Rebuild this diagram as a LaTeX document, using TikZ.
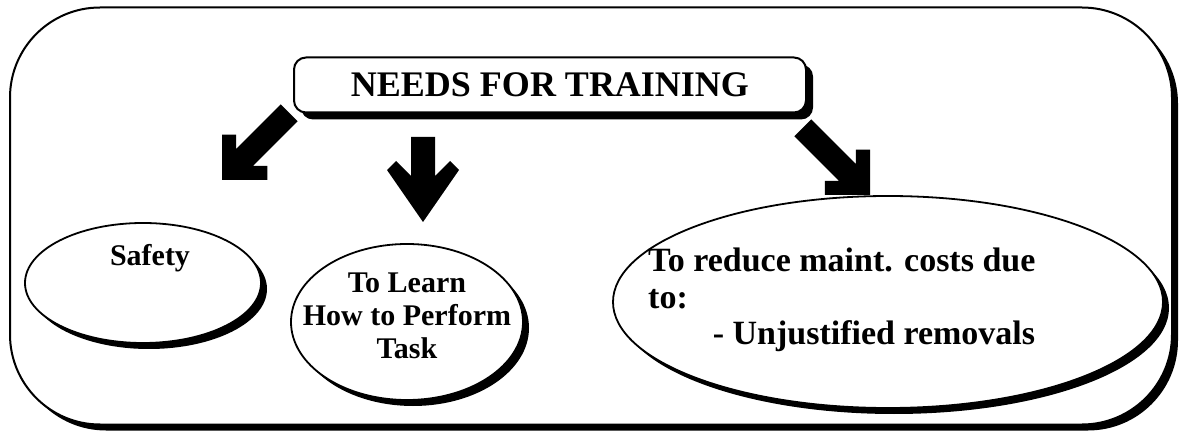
\documentclass[tikz,border=0pt]{standalone}
\usepackage{fontspec}
\setmainfont{Liberation Serif}
\usetikzlibrary{shapes.geometric,shadows}

\tikzset{
  boxshadow/.style={drop shadow={shadow xshift=#1, shadow yshift=-#1, fill=black, opacity=1}},
  framebox/.style={draw, line width=2pt, fill=white, rounded corners=90pt, boxshadow=6pt},
  titlebox/.style={draw, line width=2pt, fill=white, rounded corners=12pt, boxshadow=7pt,
    minimum width=512pt, minimum height=55pt, inner sep=0pt},
  ovalbox/.style={ellipse, draw, line width=1.8pt, fill=white, boxshadow=6pt, inner sep=0pt},
  bigtxt/.style={font=\fontsize{36}{40}\selectfont\bfseries},
  ovaltxt/.style={font=\fontsize{30}{33}\selectfont\bfseries, align=center},
  reducetxt/.style={font=\fontsize{34}{36.5}\selectfont\bfseries, align=left, inner sep=0pt}
}

\begin{document}
\begin{tikzpicture}[x=1pt, y=-1pt]
\def\diagarrow{(0,0) -- (-32,-32) -- (-22,-42) -- (-12,-32) -- (-12,-95) -- (12,-95) -- (12,-32) -- (22,-42) -- (32,-32) -- cycle}
\def\downarrow{(0,0) -- (-36,-52) -- (-27,-61) -- (-12,-46) -- (-12,-85) -- (12,-85) -- (12,-46) -- (27,-61) -- (36,-52) -- cycle}

\useasboundingbox (0,0) rectangle (1184,438);

\node[framebox, minimum width=1162pt, minimum height=417pt] (frame) at (591,216) {};

\node[titlebox, bigtxt] (needs) at (550,85) {NEEDS FOR TRAINING};

% the three block arrows
\fill[shift={(222,180)}, rotate=-45] \diagarrow;
\fill[shift={(423,222)}] \downarrow;
\fill[shift={(870,195)}, rotate=45] \diagarrow;

\node[ovalbox, minimum width=236pt, minimum height=120pt] (safety) at (143,283) {};
\node[ovaltxt] (safetytxt) at (150,258) {Safety};

\node[ovalbox, minimum width=232pt, minimum height=156pt] (learn) at (407,322) {};
\node[ovaltxt] (learntxt) at (407,316) {To Learn\\How to Perform\\Task};

\node[ovalbox, minimum width=550pt, minimum height=212pt] (reduce) at (888,302) {};
\node[reducetxt, anchor=north west] (reducetxt) at (648,248) {To reduce maint. costs due\\to:\\\hspace{1.9em}- Unjustified removals};
\end{tikzpicture}
\end{document}
